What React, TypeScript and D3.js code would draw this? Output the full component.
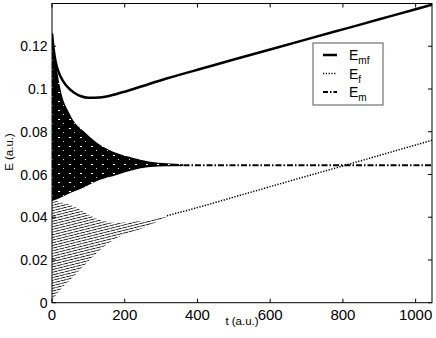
import React from 'react';
import * as d3 from 'd3';

// E_mf : solid curve
const T_MF = [0, 5, 10, 20, 30, 45, 60, 80, 100, 130, 180, 224, 315, 430, 500, 600, 700, 800, 900, 1000, 1045];
const E_MF = [0.126, 0.118, 0.1128, 0.1072, 0.1038, 0.1005, 0.0984, 0.0966, 0.0959, 0.096, 0.0978, 0.1, 0.1049, 0.1104, 0.1138, 0.1185, 0.1232, 0.1279, 0.1326, 0.1373, 0.1394];

// E_m : fast oscillation envelope, then steady dash-dot line
const T_M_BAND = [0, 8, 22, 50, 92, 132, 178, 224, 270, 316, 360];
const E_M_UPPER = [0.127, 0.116, 0.101, 0.088, 0.0795, 0.0739, 0.07, 0.0677, 0.066, 0.0652, 0.0648];
const E_M_LOWER = [0.0475, 0.048, 0.049, 0.0513, 0.0543, 0.0575, 0.0598, 0.0621, 0.0635, 0.0638, 0.064];
const T_M = [330, 450, 600, 750, 900, 1045];
const E_M = [0.0644, 0.0643, 0.0643, 0.0643, 0.0643, 0.0643];

// E_f : fast oscillation envelope, then dotted rising line
const T_F_BAND = [0, 22, 50, 86, 132, 178, 224, 270, 316];
const E_F_UPPER = [0.048, 0.047, 0.0458, 0.0426, 0.0387, 0.0373, 0.038, 0.0387, 0.041];
const E_F_LOWER = [0.001, 0.006, 0.0106, 0.0169, 0.0247, 0.0303, 0.0333, 0.0364, 0.0403];
const T_F = [316, 400, 500, 600, 700, 800, 900, 1000, 1045];
const E_F = [0.0407, 0.0445, 0.0494, 0.0543, 0.0592, 0.064, 0.0689, 0.0738, 0.076];

const X_TICKS = [0, 200, 400, 600, 800, 1000];
const Y_TICKS = [0, 0.02, 0.04, 0.06, 0.08, 0.1, 0.12];
const LEGEND = [
  { sub: 'mf', dash: 'none', width: 2.5 },
  { sub: 'f', dash: '1.2,1.6', width: 1.3 },
  { sub: 'm', dash: '5,2,1.5,2', width: 2 },
];

const W = 436;
const H = 338;
const FONT = '"Liberation Sans", Arial, Helvetica, sans-serif';

export default function App() {
  const left = 52, right = 432, top = 3.5, bottom = 302.7;
  const x = d3.scaleLinear().domain([0, 1045]).range([left, right]);
  const y = d3.scaleLinear().domain([0, 0.14]).range([bottom, top]);

  const line = (ts: number[], es: number[]) =>
    d3.line<number>()
      .x((_, i) => x(ts[i]))
      .y((e) => y(e))
      .curve(d3.curveMonotoneX)(es) || '';

  const band = (ts: number[], lo: number[], hi: number[]) =>
    d3.area<number>()
      .x((t) => x(t))
      .y0((_, i) => y(lo[i]))
      .y1((_, i) => y(hi[i]))
      .curve(d3.curveMonotoneX)(ts) || '';

  return (
    <svg width={W} height={H} style={{ position: 'absolute', left: 0, top: 0 }} fontFamily={FONT}>
      <defs>
        <pattern id="mband" width="11" height="9" patternUnits="userSpaceOnUse">
          <rect width="11" height="9" fill="#000" />
          <rect x="3" y="2" width="2" height="1" fill="#fff" />
          <rect x="8" y="6" width="1" height="1" fill="#ddd" />
        </pattern>
        <pattern id="fband" width="6" height="2.6" patternUnits="userSpaceOnUse" patternTransform="rotate(-14)">
          <rect width="6" height="2.6" fill="#fff" />
          <line x1="0" y1="1.3" x2="6" y2="1.3" stroke="#000" strokeWidth="1" strokeDasharray="2.5,0.8" />
        </pattern>
        <clipPath id="plot">
          <rect x={left} y={top} width={right - left} height={bottom - top} />
        </clipPath>
      </defs>
      <rect x={0} y={0} width={W} height={H} fill="#fff" />

      <g clipPath="url(#plot)">
        <path d={band(T_F_BAND, E_F_LOWER, E_F_UPPER)} fill="url(#fband)" />
        <path d={line(T_F, E_F)} fill="none" stroke="#000" strokeWidth={1.5} strokeDasharray="1.3,1.5" />
        <path d={band(T_M_BAND, E_M_LOWER, E_M_UPPER)} fill="url(#mband)" />
        <path d={line(T_M, E_M)} fill="none" stroke="#000" strokeWidth={2} strokeDasharray="6,2,1.5,2" />
        <path d={line(T_MF, E_MF)} fill="none" stroke="#000" strokeWidth={2.5} />
      </g>

      {/* box and ticks */}
      <rect x={left} y={top} width={right - left} height={bottom - top} fill="none" stroke="#000" strokeWidth={1} />
      {X_TICKS.map((t) => (
        <g key={'x' + t}>
          <line x1={x(t)} x2={x(t)} y1={bottom} y2={bottom - 4} stroke="#000" />
          <line x1={x(t)} x2={x(t)} y1={top} y2={top + 4} stroke="#000" />
          <text x={x(t)} y={320} textAnchor="middle" fontSize={15}>{t}</text>
        </g>
      ))}
      {Y_TICKS.map((v) => (
        <g key={'y' + v}>
          <line x1={left} x2={left + 4} y1={y(v)} y2={y(v)} stroke="#000" />
          <line x1={right} x2={right - 4} y1={y(v)} y2={y(v)} stroke="#000" />
          <text x={47.5} y={y(v)} dy="0.36em" textAnchor="end" fontSize={14}>{d3.format('~g')(v)}</text>
        </g>
      ))}
      <text x={(left + right) / 2} y={325} textAnchor="middle" fontSize={11.5}>t (a.u.)</text>
      <text transform={`translate(12.5,152) rotate(-90)`} textAnchor="middle" fontSize={11.5}>E (a.u.)</text>

      {/* legend */}
      <g transform="translate(313,43)">
        <rect width={70} height={62} fill="#fff" stroke="#555" strokeWidth={1} />
        {LEGEND.map((d, i) => (
          <g key={d.sub} transform={`translate(0,${12 + i * 18.5})`}>
            <line x1={10} x2={24} y1={0} y2={0} stroke="#000" strokeWidth={d.width} strokeDasharray={d.dash} />
            <text x={36} y={5} fontSize={14}>
              E<tspan fontSize={10} dy={4}>{d.sub}</tspan>
            </text>
          </g>
        ))}
      </g>
    </svg>
  );
}
